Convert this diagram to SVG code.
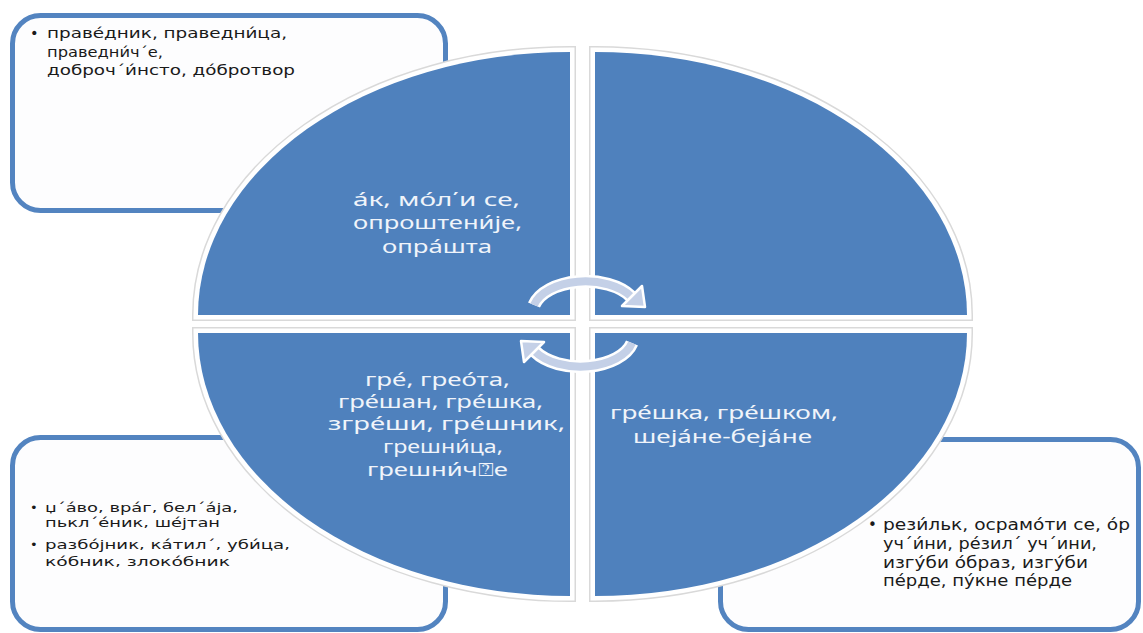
<svg xmlns="http://www.w3.org/2000/svg" width="1143" height="633" viewBox="0 0 1143 633">
<defs>
<style>
.box{fill:#fdfdfe;stroke:#5384c0;stroke-width:5}
.btxt{font-family:"DejaVu Sans","Noto Sans",sans-serif;fill:#1a1a1a}
.qo{fill:none;stroke:#d9d9d9;stroke-width:12;stroke-linejoin:miter}
.qw{fill:none;stroke:#ffffff;stroke-width:9;stroke-linejoin:miter}
.qf{fill:#4f81bd}
.qtxt{font-family:"Noto Sans","DejaVu Sans",sans-serif;font-size:17.5px;fill:#f0f4fa}
.aw{fill:none;stroke:#ffffff;stroke-width:13}
.af{fill:none;stroke:#c4d0e7;stroke-width:8}
.hw{fill:#c4d0e7;stroke:#ffffff;stroke-width:2.5;stroke-linejoin:round}
</style>
<path id="qTL" d="M 570 315 L 198 315 A 372 263 0 0 1 570 52 Z"/>
<path id="qTR" d="M 595 315 L 595 52 A 372 263 0 0 1 967 315 Z"/>
<path id="qBL" d="M 570 333 L 570 596 A 372 263 0 0 1 198 333 Z"/>
<path id="qBR" d="M 595 333 L 967 333 A 372 263 0 0 1 595 596 Z"/>
</defs>
<rect width="1143" height="633" fill="#ffffff"/>

<g id="box-top-left">
<rect class="box" x="12.5" y="15.5" width="433" height="195" rx="28"/>
<g class="btxt" font-size="14.5">
<text x="30" y="38">•</text>
<text x="47" y="38" textLength="240" lengthAdjust="spacingAndGlyphs">праве́дник, праведни́ца,</text>
<text x="47" y="57" textLength="116" lengthAdjust="spacingAndGlyphs">праведни́ч΄е,</text>
<text x="47" y="75" textLength="248" lengthAdjust="spacingAndGlyphs">доброч΄и́нсто, до́бротвор</text>
</g>
</g>

<g id="box-bottom-left">
<rect class="box" x="12.5" y="437.5" width="433" height="192" rx="28"/>
<g class="btxt" font-size="13">
<text x="30" y="512">•</text>
<text x="45" y="512" textLength="193" lengthAdjust="spacingAndGlyphs">џ΄а́во, вра́г, бел΄а́ја,</text>
<text x="45" y="527" textLength="175" lengthAdjust="spacingAndGlyphs">пькл΄е́ник, ше́јтан</text>
<text x="30" y="549">•</text>
<text x="45" y="549" textLength="245" lengthAdjust="spacingAndGlyphs">разбо́јник, ка́тил΄, уби́ца,</text>
<text x="45" y="566" textLength="185" lengthAdjust="spacingAndGlyphs">ко́бник, злоко́бник</text>
</g>
</g>

<g id="box-bottom-right">
<rect class="box" x="720.5" y="439.5" width="418" height="190" rx="28"/>
<g class="btxt" font-size="15">
<text x="868" y="530">•</text>
<text x="883" y="530" textLength="247" lengthAdjust="spacingAndGlyphs">рези́льк, осрамо́ти се, о́р</text>
<text x="883" y="549" textLength="214" lengthAdjust="spacingAndGlyphs">уч΄и́ни, ре́зил΄ уч΄ини,</text>
<text x="883" y="568" textLength="205" lengthAdjust="spacingAndGlyphs">изгу́би о́браз, изгу́би</text>
<text x="883" y="586" textLength="189" lengthAdjust="spacingAndGlyphs">пе́рде, пу́кне пе́рде</text>
</g>
</g>

<g id="quadrant-top-left">
<use href="#qTL" class="qo"/><use href="#qTL" class="qw"/><use href="#qTL" class="qf"/>
<g class="qtxt">
<text x="353" y="206" textLength="167" lengthAdjust="spacingAndGlyphs">а́к, мо́л΄и се,</text>
<text x="353" y="229" textLength="169" lengthAdjust="spacingAndGlyphs">опроштени́је,</text>
<text x="382" y="253" textLength="110" lengthAdjust="spacingAndGlyphs">опра́шта</text>
</g>
</g>

<g id="quadrant-top-right">
<use href="#qTR" class="qo"/><use href="#qTR" class="qw"/><use href="#qTR" class="qf"/>
</g>

<g id="quadrant-bottom-left">
<use href="#qBL" class="qo"/><use href="#qBL" class="qw"/><use href="#qBL" class="qf"/>
<g class="qtxt">
<text x="365" y="386" textLength="145" lengthAdjust="spacingAndGlyphs">гре́, грео́та,</text>
<text x="338" y="408" textLength="205" lengthAdjust="spacingAndGlyphs">гре́шан, гре́шка,</text>
<text x="328" y="430" textLength="237" lengthAdjust="spacingAndGlyphs">згре́ши, гре́шник,</text>
<text x="383" y="453" textLength="120" lengthAdjust="spacingAndGlyphs">грешни́ца,</text>
<text x="367" y="476" textLength="141" lengthAdjust="spacingAndGlyphs">грешни́ч⍰е</text>
</g>
</g>

<g id="quadrant-bottom-right">
<use href="#qBR" class="qo"/><use href="#qBR" class="qw"/><use href="#qBR" class="qf"/>
<g class="qtxt">
<text x="610" y="419" textLength="228" lengthAdjust="spacingAndGlyphs">гре́шка, гре́шком,</text>
<text x="633" y="443" textLength="179" lengthAdjust="spacingAndGlyphs">шеја́не-беја́не</text>
</g>
</g>

<g id="connectors">
<g id="arrow-top">
<path class="aw" d="M 534 305 A 53 31 0 0 1 631 296.5"/>
<path class="af" d="M 534 305 A 53 31 0 0 1 631 296.5"/>
<polygon class="hw" points="642,286 622,306 645,307"/>
</g>
<g id="arrow-bottom" transform="rotate(180 583 324)">
<path class="aw" d="M 534 305 A 53 31 0 0 1 631 296.5"/>
<path class="af" d="M 534 305 A 53 31 0 0 1 631 296.5"/>
<polygon class="hw" points="642,286 622,306 645,307"/>
</g>
</g>
</svg>
